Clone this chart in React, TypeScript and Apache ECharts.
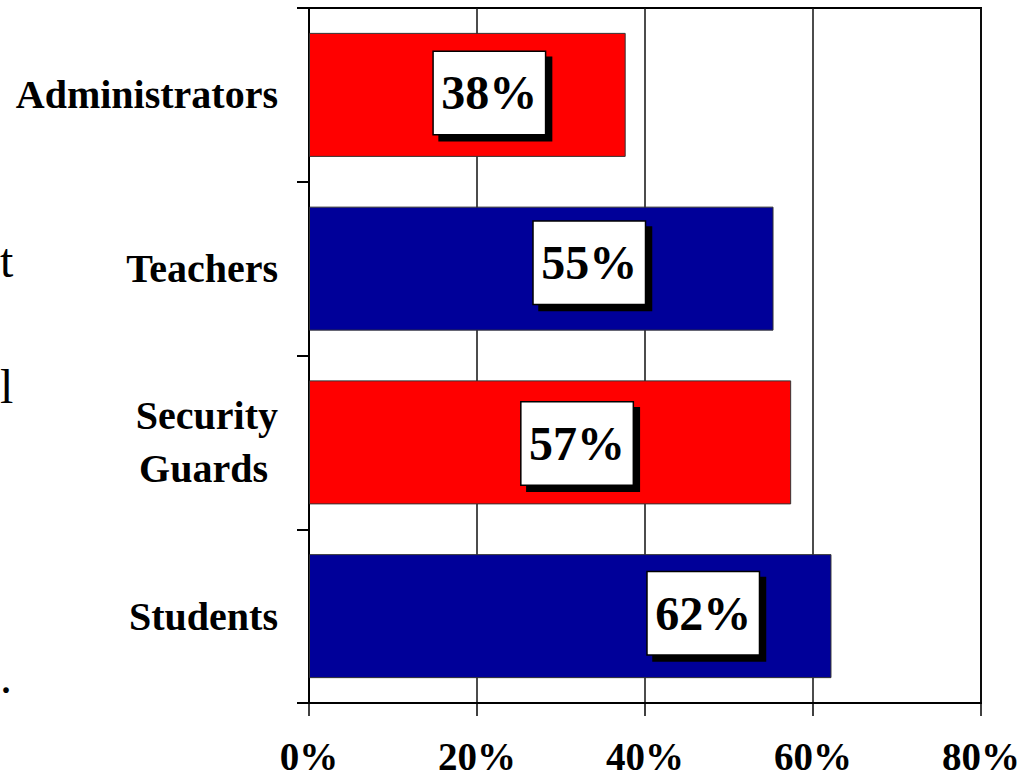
import React, { useEffect, useRef } from "react";
import * as echarts from "echarts";

const categories = ["Administrators", "Teachers", "Security\nGuards ", "Students"];
const values = [37.7, 55.3, 57.4, 62.2];
const barColors = ["#FF0000", "#000099", "#FF0000", "#000099"];
const xTicks = { min: 0, max: 80, interval: 20 };
// fragments of slide text visible at the left edge
const edgeTexts = ["t", "l", "."];
// label box offsets (px) relative to bar centre, as placed in the original slide
const labelOffsets = [
  [22, -2],
  [48, -6],
  [27, 1],
  [133, -3],
];

const FONT = "'Liberation Serif', 'Times New Roman', serif";

export default function App() {
  const ref = useRef<HTMLDivElement>(null);
  useEffect(() => {
    if (!ref.current) return;
    const chart = echarts.init(ref.current, undefined, { renderer: "svg" });
    const edgeTops = [236, 362, 652];
    chart.setOption({
      animation: false,
      backgroundColor: "#ffffff",
      grid: {
        left: 309,
        right: 46,
        top: 8,
        bottom: 77,
        show: true,
        borderColor: "#000",
        borderWidth: 2,
        containLabel: false,
      },
      xAxis: {
        type: "value",
        min: xTicks.min,
        max: xTicks.max,
        interval: xTicks.interval,
        axisLine: { show: true, lineStyle: { color: "#000", width: 2 } },
        axisTick: { show: true, length: 13, lineStyle: { color: "#000", width: 1.5 } },
        splitLine: { show: true, lineStyle: { color: "#111", width: 1.5 } },
        axisLabel: {
          formatter: "{value}%",
          margin: 38,
          color: "#000",
          fontFamily: FONT,
          fontWeight: "bold",
          fontSize: 39,
          lineHeight: 30,
        },
      },
      yAxis: {
        type: "category",
        inverse: true,
        data: categories,
        axisLine: { show: true, lineStyle: { color: "#000", width: 2 } },
        axisTick: { show: true, length: 12, lineStyle: { color: "#000", width: 2 } },
        axisLabel: {
          margin: 31,
          color: "#000",
          fontFamily: FONT,
          fontWeight: "bold",
          fontSize: 40,
          lineHeight: 53,
          align: "right",
        },
      },
      graphic: edgeTexts.map((t, i) => ({
        type: "text",
        left: 0,
        top: edgeTops[i],
        style: { text: t, font: "48px " + FONT, fill: "#000" },
      })),
      series: [
        {
          type: "bar",
          barWidth: 124,
          data: values.map((v, i) => ({
            value: v,
            itemStyle: { color: barColors[i] },
            label: { offset: labelOffsets[i] },
          })),
          itemStyle: { borderColor: "#333", borderWidth: 1 },
          label: {
            show: true,
            position: "inside",
            formatter: (p: any) => Math.round(p.value) + "%",
            color: "#000",
            fontFamily: FONT,
            fontWeight: "bold",
            fontSize: 48,
            width: 111,
            height: 82,
            lineHeight: 82,
            align: "center",
            verticalAlign: "middle",
            backgroundColor: "#fff",
            borderColor: "#000",
            borderWidth: 1.5,
            padding: 0,
            shadowColor: "#000",
            shadowBlur: 0,
            shadowOffsetX: 6,
            shadowOffsetY: 6,
          },
        },
      ],
    });
    return () => chart.dispose();
  }, []);
  return (
    <div
      ref={ref}
      style={{ position: "fixed", left: 0, top: 0, width: 1027, height: 780 }}
    />
  );
}
